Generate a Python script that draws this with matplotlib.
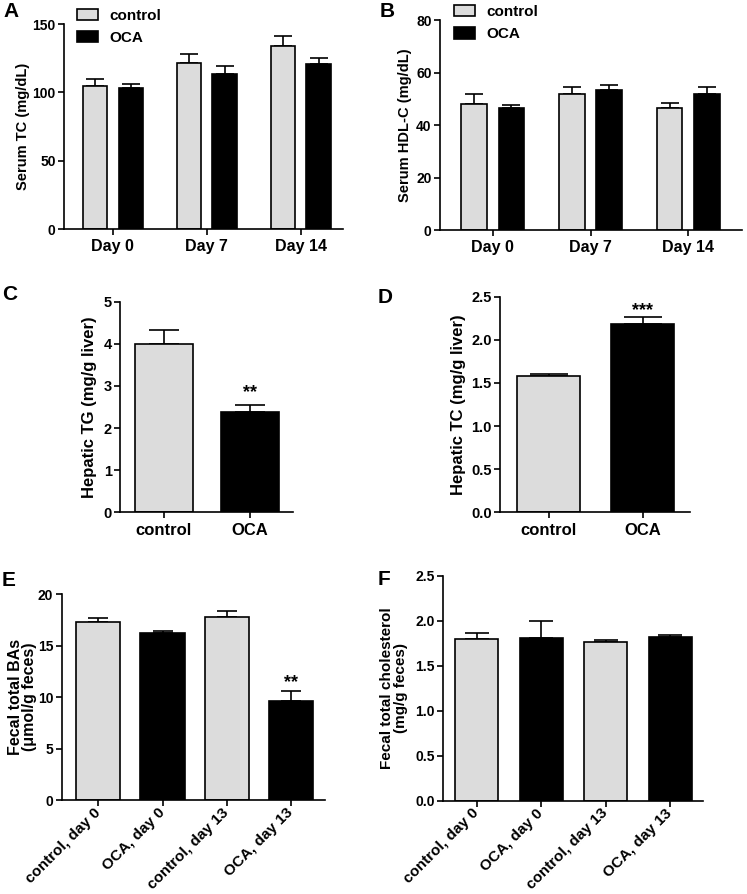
import matplotlib
matplotlib.use("Agg")
import matplotlib.pyplot as plt
from matplotlib.patches import Patch
import numpy as np

plt.rcParams['font.family'] = ['Liberation Sans', 'DejaVu Sans']
plt.rcParams['font.weight'] = 'bold'
plt.rcParams['axes.labelweight'] = 'bold'

# ---------------- data ----------------
days = ["Day 0", "Day 7", "Day 14"]
tc_control = [105, 121.5, 134]
tc_control_err = [4.5, 6.8, 6.9]
tc_oca = [103, 113.6, 120.5]
tc_oca_err = [3.0, 5.4, 4.9]

hdl_control = [48.2, 51.8, 46.6]
hdl_control_err = [3.5, 2.5, 1.9]
hdl_oca = [46.4, 53.2, 51.9]
hdl_oca_err = [1.2, 2.2, 2.4]

groups = ["control", "OCA"]
hep_tg = [4.0, 2.37]
hep_tg_err = [0.32, 0.17]
hep_tc = [1.585, 2.18]
hep_tc_err = [0.022, 0.08]

fecal_groups = ["control, day 0", "OCA, day 0", "control, day 13", "OCA, day 13"]
fecal_ba = [17.34, 16.2, 17.82, 9.64]
fecal_ba_err = [0.32, 0.23, 0.58, 0.94]
fecal_chol = [1.796, 1.807, 1.759, 1.815]
fecal_chol_err = [0.067, 0.186, 0.026, 0.022]

GRAY = "#dcdcdc"
BLACK = "#000000"
LW = 1.2

fig = plt.figure(figsize=(7.47, 8.94), dpi=100)
fig.patch.set_facecolor("white")


def style_axes(ax, ytick_size, xtick_size):
    for s in ("top", "right"):
        ax.spines[s].set_visible(False)
    for s in ("left", "bottom"):
        ax.spines[s].set_linewidth(LW)
    ax.tick_params(axis="both", direction="out", width=LW, length=4.5, color="black")
    ax.tick_params(axis="y", labelsize=ytick_size, pad=1.5)
    ax.tick_params(axis="x", labelsize=xtick_size, pad=3)
    for lab in ax.get_yticklabels() + ax.get_xticklabels():
        lab.set_fontweight("bold")


def set_ylab(ax, text, xpos, size, ls=1.0):
    ax.set_ylabel(text, fontsize=size, fontweight="bold", va="center", ha="center",
                  linespacing=ls)
    ax.yaxis.set_label_coords(xpos, 0.5)


def grouped(ax, cats, c_vals, c_err, o_vals, o_err, offset, width, capsize):
    x = np.arange(len(cats))
    ax.bar(x - offset, c_vals, width, color=GRAY, edgecolor="black", linewidth=LW, zorder=2)
    ax.bar(x + offset, o_vals, width, color=BLACK, edgecolor="black", linewidth=LW, zorder=2)
    ax.errorbar(x - offset, c_vals, yerr=[np.zeros(len(c_vals)), c_err], fmt="none",
                ecolor="black", elinewidth=LW, capsize=capsize, capthick=LW, zorder=1)
    ax.errorbar(x + offset, o_vals, yerr=[np.zeros(len(o_vals)), o_err], fmt="none",
                ecolor="black", elinewidth=LW, capsize=capsize, capthick=LW, zorder=1)
    ax.set_xticks(x)
    ax.set_xticklabels(cats)


def single(ax, cats, vals, errs, colors, width, capsize):
    x = np.arange(len(cats))
    ax.bar(x, vals, width, color=colors, edgecolor="black", linewidth=LW, zorder=2)
    ax.errorbar(x, vals, yerr=[np.zeros(len(vals)), errs], fmt="none",
                ecolor="black", elinewidth=LW, capsize=capsize, capthick=LW, zorder=1)
    ax.set_xticks(x)
    ax.set_xticklabels(cats)


def stars(ax, x, vals, errs, idx, text, dy, size):
    ax.annotate(text, xy=(x[idx], vals[idx] + errs[idx]), xytext=(0, dy),
                textcoords="offset points", ha="center", va="bottom",
                fontsize=size, fontweight="bold")


def legend(ax, anchor):
    handles = [Patch(facecolor=GRAY, edgecolor="black", linewidth=LW),
               Patch(facecolor=BLACK, edgecolor="black", linewidth=LW)]
    ax.legend(handles, groups, loc="upper left", bbox_to_anchor=anchor, frameon=False,
              handlelength=1.4, handleheight=0.75, handletextpad=0.75,
              labelspacing=0.55, borderpad=0, borderaxespad=0,
              prop={"weight": "bold", "size": 11})


def rotate_labels(ax):
    for lab in ax.get_xticklabels():
        lab.set_rotation(45)
        lab.set_ha("right")
        lab.set_va("center")
        lab.set_rotation_mode("anchor")


# ---------------- A ----------------
axA = fig.add_axes([0.0857, 0.7438, 0.3735, 0.2293])
grouped(axA, days, tc_control, tc_control_err, tc_oca, tc_oca_err, 0.19, 0.26, 6.5)
axA.set_ylim(0, 150)
axA.set_yticks([0, 50, 100, 150])
axA.set_xlim(-0.52, 2.45)
style_axes(axA, 10, 11.5)
set_ylab(axA, "Serum TC (mg/dL)", -0.147, 10.5)
legend(axA, (0.045, 1.075))

# ---------------- B ----------------
axB = fig.add_axes([0.589, 0.7427, 0.4043, 0.2349])
grouped(axB, days, hdl_control, hdl_control_err, hdl_oca, hdl_oca_err, 0.19, 0.26, 6.5)
axB.set_ylim(0, 80)
axB.set_yticks([0, 20, 40, 60, 80])
axB.set_xlim(-0.54, 2.55)
style_axes(axB, 10, 11.5)
set_ylab(axB, "Serum HDL-C (mg/dL)", -0.116, 10.5)
legend(axB, (0.045, 1.072))

# ---------------- C ----------------
axC = fig.add_axes([0.1606, 0.4270, 0.2316, 0.2356])
single(axC, groups, hep_tg, hep_tg_err, [GRAY, BLACK], 0.67, 11)
axC.set_ylim(0, 5)
axC.set_yticks([0, 1, 2, 3, 4, 5])
axC.set_xlim(-0.51, 1.5)
style_axes(axC, 10.5, 12)
set_ylab(axC, "Hepatic TG (mg/g liver)", -0.175, 12)
stars(axC, np.arange(2), hep_tg, hep_tg_err, 1, "**", 3, 13)

# ---------------- D ----------------
axD = fig.add_axes([0.6693, 0.4270, 0.2544, 0.2412])
single(axD, groups, hep_tc, hep_tc_err, [GRAY, BLACK], 0.67, 13.5)
axD.set_ylim(0, 2.5)
axD.set_yticks([0, 0.5, 1.0, 1.5, 2.0, 2.5])
axD.set_yticklabels(["0.0", "0.5", "1.0", "1.5", "2.0", "2.5"])
axD.set_xlim(-0.52, 1.5)
style_axes(axD, 10.5, 12)
set_ylab(axD, "Hepatic TC (mg/g liver)", -0.216, 12)
stars(axD, np.arange(2), hep_tc, hep_tc_err, 1, "***", -1, 13)

# ---------------- E ----------------
axE = fig.add_axes([0.0826, 0.1051, 0.3525, 0.2301])
single(axE, fecal_groups, fecal_ba, fecal_ba_err, [GRAY, BLACK, GRAY, BLACK], 0.69, 7.5)
axE.set_ylim(0, 20)
axE.set_yticks([0, 5, 10, 15, 20])
axE.set_xlim(-0.57, 3.53)
style_axes(axE, 10, 11)
rotate_labels(axE)
set_ylab(axE, "Fecal total BAs\n(μmol/g feces)", -0.15, 11.5, 0.92)
stars(axE, np.arange(4), fecal_ba, fecal_ba_err, 3, "**", 0, 13)

# ---------------- F ----------------
axF = fig.add_axes([0.5934, 0.1044, 0.3477, 0.2517])
single(axF, fecal_groups, fecal_chol, fecal_chol_err, [GRAY, BLACK, GRAY, BLACK], 0.67, 8.5)
axF.set_ylim(0, 2.5)
axF.set_yticks([0, 0.5, 1.0, 1.5, 2.0, 2.5])
axF.set_yticklabels(["0.0", "0.5", "1.0", "1.5", "2.0", "2.5"])
axF.set_xlim(-0.52, 3.51)
style_axes(axF, 10, 11)
rotate_labels(axF)
set_ylab(axF, "Fecal total cholesterol\n(mg/g feces)", -0.19, 11, 0.95)

# ---------------- panel letters ----------------
for letter, (px, py) in {"A": (3, 2), "B": (380, 2), "C": (2, 285), "D": (378, 288),
                         "E": (2, 571), "F": (378, 570)}.items():
    fig.text(px / 747, 1 - py / 894, letter, fontsize=15, fontweight="bold",
             ha="left", va="top")

fig.savefig("out.png", dpi=100, facecolor="white")
